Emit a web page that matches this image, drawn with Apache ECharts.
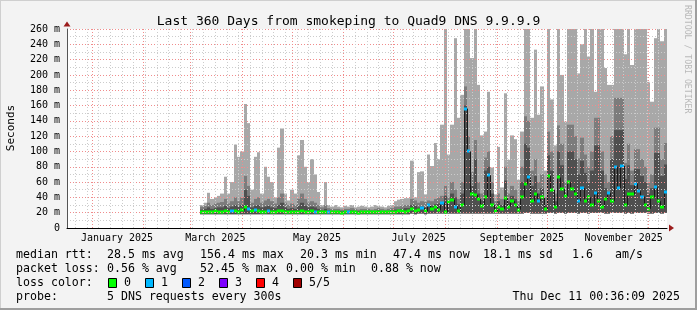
<!DOCTYPE html>
<html><head><meta charset="utf-8">
<script src="https://cdn.jsdelivr.net/npm/echarts@6/dist/echarts.min.js"></script>
<style>html,body{margin:0;padding:0;background:#f3f3f3}#c{width:697px;height:310px}</style>
</head><body><div id="c"></div>
<script>
// ---------- data ----------
const titleText = 'Last 360 Days from smokeping to Quad9 DNS 9.9.9.9';
const axisStart = '2024-12-17';
const axisDays = 360;
const monthNames = ['January','February','March','April','May','June','July','August','September','October','November','December'];
const monthLabels = ['January 2025','March 2025','May 2025','July 2025','September 2025','November 2025'];
const yMax = 260, yStep = 20;
const dataStart = '2025-03-07';
const binDays = 2;

const smokeLo = [
18,18,18,18,18,18,18,18,18,18, 18,18,18,18,18,18,18,18,18,18,
18,18,18,18,18,18,18,18,18,18, 18,18,18,18,18,18,18,18,18,18,
18,18,18,18,18,18,18,18,18,18, 18,18,18,18,18,18,18,18,18,18,
18,18,18,19,18,19,19,18,19,19, 19,19,19,19,19,19,19,19,19,19,
19,19,19,19,19,19,19,19,19,19, 19,19,19,19,19,19,19,20,20,19,
19,19,19,19,20,20,19,20,20,19, 20,20,20,19,20,20,19,20,20,20,
20,19,19,20,20,20,20,19,20,19, 20,20,20,20,19,19,20,20,19,20];
const smokeHi = [
30,33,46,38,40,42,45,67,45,60, 109,93,100,162,137,50,93,99,45,80,
67,60,40,105,130,45,36,50,45,95, 115,80,60,90,70,47,30,60,30,28,
30,28,27,29,28,30,27,28,29,28, 27,28,30,29,28,27,29,30,35,37,
38,39,39,88,40,73,74,44,96,81, 111,90,135,300,96,135,248,144,174,300,
300,222,300,187,121,126,178,79,44,106, 53,176,89,121,116,63,126,300,300,144,
233,148,185,75,300,168,108,300,200,139, 300,300,300,202,240,300,224,300,178,300,
300,209,187,187,300,300,300,227,300,213, 300,300,300,300,191,165,248,300,244,300];
const smokeMid = [
28,29,33,30,32,33,34,38,32,35, 40,35,40,68,55,33,38,40,33,36,
38,35,32,40,45,33,30,32,30,38, 45,38,33,35,33,30,27,30,26,25,
25,25,24,25,25,26,25,24,25,25, 25,24,25,26,25,24,25,26,28,28,
29,30,30,38,36,33,35,34,36,35, 38,40,42,55,40,60,50,38,60,185,
120,73,115,60,45,92,100,60,35,45, 38,80,45,55,50,35,80,146,140,75,
90,60,70,40,126,100,45,134,110,60, 135,135,120,91,118,96,80,100,144,144,
100,70,60,120,170,170,170,85,110,75, 103,103,90,80,60,70,131,131,90,111];
const smokeDark = [
24,25,27,25,26,27,27,29,26,28, 30,28,30,50,42,27,29,30,27,28,
29,27,26,30,33,27,25,26,25,29, 33,29,27,28,27,25,23,25,23,22,
22,22,22,22,22,23,22,22,22,22, 22,22,22,23,22,22,22,23,24,24,
25,26,26,30,29,27,28,27,30,29, 31,32,33,42,32,45,40,31,45,160,
100,55,90,45,36,75,80,45,28,35, 30,62,35,42,38,28,60,110,105,55,
68,45,52,30,95,75,35,100,82,45, 100,100,90,70,88,72,60,75,108,108,
75,52,45,90,128,128,128,64,82,56, 77,77,68,60,45,52,98,98,68,83];
const medianRtt = [
21,21,21,21,22,21,21,22,21,22, 22,21,23,27,25,22,24,22,21,21,
22,21,21,22,22,21,21,21,21,21, 22,21,21,22,21,21,21,21,21,21,
21,21,20,21,21,21,21,20,21,21, 21,21,21,21,21,21,21,21,21,22,
22,21,22,25,22,23,26,22,30,25, 28,23,33,21,34,37,28,22,30,156,
100,45,43,38,29,40,69,30,22,28, 25,39,28,35,30,24,40,57,66,35,
45,35,40,25,68,50,28,66,51,42, 60,51,45,35,52,35,40,30,46,35,
28,38,46,35,80,52,81,30,44,44, 58,48,41,30,25,40,53,35,27,47];
const lossLevel = [
0,0,0,0,0,0,0,0,0,1, 0,0,0,0,1,0,1,0,0,0,
1,0,0,0,0,0,0,0,0,0, 0,0,0,0,1,0,0,0,1,0,
0,0,0,0,1,0,0,0,0,0, 0,0,0,0,0,0,0,0,0,0,
0,0,0,0,0,0,1,0,1,0, 0,0,1,0,0,0,1,0,0,1,
1,0,0,0,0,0,1,0,0,0, 0,0,0,0,0,0,0,0,1,0,
0,1,0,0,0,0,0,0,0,0, 0,0,0,1,1,0,0,0,1,0,
0,0,1,0,1,1,1,0,0,0, 1,1,1,0,0,0,1,0,0,1];
const lossColors = ['#00ff00','#00b8ff','#0059ff','#7e00ff','#ff0000','#a00000'];
const lossNames = ['0','1','2','3','4','5/5'];
const statRtt = ['median rtt:','28.5 ms avg','156.4 ms max','20.3 ms min','47.4 ms now','18.1 ms sd','1.6','am/s'];
const statLoss = ['packet loss:','0.56 % avg','52.45 % max','0.00 % min','0.88 % now'];
const probeText = ['probe:','5 DNS requests every 300s'];
const stampText = 'Thu Dec 11 00:36:09 2025';
const sideText = 'RRDTOOL / TOBI OETIKER';

// ---------- build ----------
const DAY = 86400000;
function utc(s){const p=s.split('-').map(Number);return Date.UTC(p[0],p[1]-1,p[2]);}
const t0 = utc(axisStart);
const cats = [];
for (let k=0;k<=axisDays;k++){ cats.push(new Date(t0+k*DAY).toISOString().slice(0,10)); }
const firstBin = (utc(dataStart)-t0)/DAY;
const bins = smokeHi.map((v,i)=>firstBin+i*binDays);
function dOf(val){return new Date(val+'T00:00:00Z');}

const MONO = 'DejaVu Sans Mono';
const RED = '#f08c8c', GREY = '#cccccc', ARROW = '#9b1c1c';

function bandSeries(top, color){
  return {type:'custom', xAxisIndex:0, yAxisIndex:0, silent:true, animation:false, z:2,
    data: bins.map((d,i)=>[d, smokeLo[i], top[i]]),
    renderItem:(params, api)=>{
      const d=api.value(0), lo=api.value(1), hi=api.value(2);
      const a=api.coord([d,lo]), b=api.coord([d+binDays,hi]);
      const cs=params.coordSys;
      const x0=Math.round(a[0]), x1=Math.round(b[0]);
      const r=echarts.graphic.clipRectByRect({x:x0,y:b[1],width:x1-x0,height:a[1]-b[1]},{x:cs.x,y:cs.y,width:cs.width,height:cs.height});
      if(!r) return null;
      return {type:'rect', shape:r, style:{fill:color}};
    }};
}

const medianSeries = {type:'custom', xAxisIndex:0, yAxisIndex:0, silent:true, animation:false, z:3,
  data: bins.map((d,i)=>[d, medianRtt[i], lossLevel[i], i>0?medianRtt[i-1]:medianRtt[i]]),
  renderItem:(params, api)=>{
    const d=api.value(0), m=api.value(1), lv=api.value(2), pm=api.value(3);
    const a=api.coord([d,m]), b=api.coord([d+binDays,m]), p=api.coord([d,pm]);
    const x0=Math.round(a[0]), x1=Math.round(b[0]);
    const ch=[];
    if (Math.abs(p[1]-a[1])>3) ch.push({type:'line', shape:{x1:x0+0.5,y1:p[1],x2:x0+0.5,y2:a[1]}, style:{stroke:'#1a1a1a',lineWidth:1}});
    ch.push({type:'rect', shape:{x:x0,y:Math.round(a[1])-1.5,width:x1-x0,height:3}, style:{fill:lossColors[lv]}});
    return {type:'group', children:ch};
  }};

const graphics = [];
function txt(x,y,s,opt){graphics.push(Object.assign({type:'text', x:x, y:y, silent:true,
  style:Object.assign({text:s, fill:'#000', font:'11.6px "'+MONO+'"', textVerticalAlign:'middle', textAlign:'left'}, opt||{})}));}
const rttX=[16,107,200,300,393,483,572,615];
statRtt.forEach((s,i)=>txt(rttX[i],254.5,s));
const lossX=[16,107,200,286,371];
statLoss.forEach((s,i)=>txt(lossX[i],268.5,s));
txt(16,282.5,'loss color:');
lossNames.forEach((s,i)=>{
  graphics.push({type:'rect', silent:true, shape:{x:108.5+i*37,y:278.5,width:8,height:9}, style:{fill:lossColors[i], stroke:'#000', lineWidth:1}});
  txt(124+i*37,282.5,s);
});
txt(16,296.5,probeText[0]); txt(107,296.5,probeText[1]);
txt(680,296.5,stampText,{textAlign:'right'});
graphics.push({type:'text', x:11, y:128, rotation:Math.PI/2, silent:true,
  style:{text:'Seconds', fill:'#000', font:'11px "'+MONO+'"', textAlign:'center', textVerticalAlign:'middle'}});
graphics.push({type:'text', x:687, y:5, rotation:-Math.PI/2, silent:true,
  style:{text:sideText, fill:'#b8b8b8', font:'8.2px "'+MONO+'"', textAlign:'left', textVerticalAlign:'middle'}});
// frame
graphics.push({type:'rect', silent:true, shape:{x:0,y:0,width:697,height:1}, style:{fill:'#cfcfcf'}});
graphics.push({type:'rect', silent:true, shape:{x:0,y:0,width:1,height:310}, style:{fill:'#cfcfcf'}});
graphics.push({type:'rect', silent:true, shape:{x:695,y:0,width:2,height:310}, style:{fill:'#9e9e9e'}});
graphics.push({type:'rect', silent:true, shape:{x:0,y:308,width:697,height:2}, style:{fill:'#9e9e9e'}});

const option = {
  backgroundColor:'#f3f3f3',
  animation:false,
  title:{text:titleText, left:'center', top:10, textStyle:{fontFamily:MONO, fontSize:13, fontWeight:'normal', color:'#000'}},
  grid:{left:67, right:30, top:29, bottom:82, show:true, backgroundColor:'#fff', borderWidth:0},
  xAxis:[
    {type:'value', min:0, max:axisDays, show:false, position:'bottom'},
    {type:'category', data:cats, boundaryGap:false, z:5, position:'bottom', offset:0,
     axisLine:{show:true, lineStyle:{color:'#000', width:1}},
     axisTick:{show:false, interval:(idx,val)=>dOf(val).getUTCDay()===0},
     axisLabel:{fontFamily:MONO, fontSize:10, color:'#000', margin:5,
       interval:(idx,val)=>{const dt=dOf(val);return dt.getUTCDate()===16 && monthLabels.indexOf(monthNames[dt.getUTCMonth()]+' '+dt.getUTCFullYear())>=0;},
       formatter:(val)=>{const dt=dOf(val);return monthNames[dt.getUTCMonth()]+' '+dt.getUTCFullYear();}},
     splitLine:{show:true, interval:(idx,val)=>dOf(val).getUTCDay()===0, lineStyle:{color:GREY, type:[1,2], width:1}}},
    {type:'category', data:cats, boundaryGap:false, z:6, position:'bottom', offset:0,
     axisLine:{show:true, symbol:['none','triangle'], symbolSize:[7,5], symbolOffset:[0,4.5], lineStyle:{color:ARROW, width:0}},
     axisTick:{show:false, interval:(idx,val)=>dOf(val).getUTCDate()===1}, axisLabel:{show:false},
     splitLine:{show:true, interval:(idx,val)=>dOf(val).getUTCDate()===1, lineStyle:{color:RED, type:[1,2], width:1}}}
  ],
  yAxis:[
    {type:'value', min:0, max:yMax, interval:yStep, z:5, position:'left', offset:0,
     axisLine:{show:true, lineStyle:{color:'#555', width:1}},
     axisTick:{show:false},
     axisLabel:{fontFamily:MONO, fontSize:10, color:'#000', margin:7, formatter:(v)=>v===0?'0':v+' m'},
     splitLine:{show:true, lineStyle:{color:RED, type:[1,2], width:1}},
     minorTick:{show:false, splitNumber:2},
     minorSplitLine:{show:true, lineStyle:{color:GREY, type:[1,2], width:1}}},
    {type:'value', min:0, max:yMax, interval:yStep, z:6, position:'left', offset:0,
     axisLine:{show:true, symbol:['none','triangle'], symbolSize:[7,5], symbolOffset:[0,5], lineStyle:{color:ARROW, width:0}},
     axisTick:{show:false}, axisLabel:{show:false}, splitLine:{show:false}}
  ],
  series:[
    bandSeries(smokeHi,'#a8a8a8'),
    bandSeries(smokeMid,'#7c7c7c'),
    bandSeries(smokeDark,'#4f4f4f'),
    medianSeries
  ],
  graphic:graphics
};
const chart = echarts.init(document.getElementById('c'), null, {renderer:'canvas'});
chart.setOption(option);
</script></body></html>
